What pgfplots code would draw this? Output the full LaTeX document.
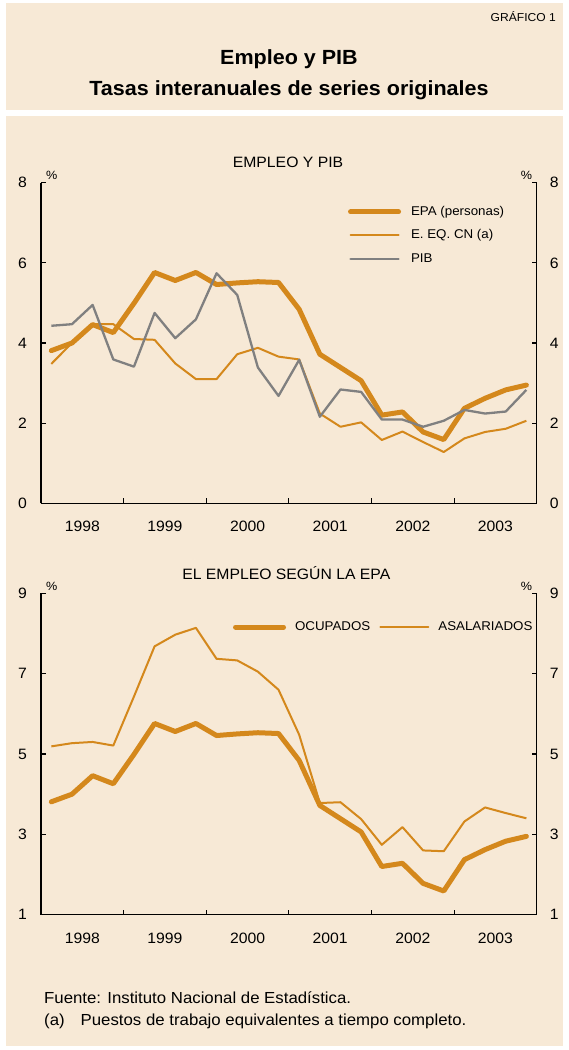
\documentclass[border=0pt]{standalone}
\usepackage{pgfplots}
\usepackage{pgfplotstable}
\pgfplotsset{compat=1.18}
\usepackage{fontspec}
\setmainfont{Liberation Sans}[FakeStretch=1.05]
\definecolor{bg}{RGB}{247,233,214}
\definecolor{ora}{RGB}{212,136,28}
\definecolor{gry}{RGB}{128,128,128}

\pgfplotstableread{
i  epa   eeq   pib   asal
0  3.81  3.48  4.43  5.19
1  4.00  4.00  4.47  5.27
2  4.46  4.47  4.95  5.30
3  4.26  4.47  3.59  5.21
4  4.99  4.10  3.41  6.43
5  5.76  4.08  4.75  7.68
6  5.56  3.49  4.12  7.97
7  5.76  3.10  4.59  8.14
8  5.46  3.10  5.74  7.37
9  5.50  3.72  5.20  7.33
10 5.53  3.88  3.39  7.05
11 5.51  3.66  2.68  6.60
12 4.84  3.59  3.58  5.48
13 3.72  2.24  2.16  3.78
14 3.39  1.91  2.84  3.80
15 3.06  2.02  2.78  3.38
16 2.20  1.58  2.09  2.74
17 2.28  1.79  2.09  3.18
18 1.78  1.53  1.91  2.60
19 1.59  1.28  2.06  2.58
20 2.37  1.62  2.33  3.32
21 2.62  1.78  2.24  3.67
22 2.83  1.86  2.29  3.53
23 2.95  2.06  2.83  3.40
}\datatab

\pgfplotsset{
  base/.style={
    scale only axis, width=495.7pt,
    xmin=-0.5, xmax=23.5, clip=false,
    axis line style={line width=1.3pt, black},
    tick style={black, line width=1.1pt},
    tick align=inside, major tick length=5pt, minor tick length=5pt,
    tick label style={font=\fontsize{15}{15}\selectfont},
    /pgf/number format/assume math mode=true,
    legend image code/.code={\draw[##1, line cap=round] (0pt,0pt) -- (48pt,0pt);},
  },
  leftax/.style={
    base,
    axis x line*=bottom, axis y line*=left,
    xtick={1.5,5.5,9.5,13.5,17.5,21.5},
    xticklabels={1998,1999,2000,2001,2002,2003},
    major x tick style={draw=none},
    minor xtick={3.5,7.5,11.5,15.5,19.5},
    xticklabel style={anchor=north, inner sep=0pt, yshift=-18pt},
    yticklabel style={anchor=east, inner sep=0pt, xshift=-14pt},
  },
  rightax/.style={
    base,
    axis y line*=right, hide x axis,
    yticklabel style={anchor=west, inner sep=0pt, xshift=13pt},
  },
  thickl/.style={ora, line width=5pt, line join=round, line cap=round},
  thinl/.style={ora, line width=2pt, line join=round},
  grayl/.style={gry, line width=2.3pt, line join=round},
}

\begin{document}
\begin{tikzpicture}[x=1pt,y=1pt]
\fill[white] (0,0) rectangle (568,-1050);
\fill[bg] (6,-3) rectangle (563,-110);
\fill[bg] (6,-116) rectangle (563,-1046);

\node[anchor=base east, inner sep=0pt, font=\fontsize{11.5}{13}\selectfont] at (556,-21.5) {GRÁFICO 1};
\node[anchor=base, inner sep=0pt, font=\fontsize{20.5}{24}\selectfont\bfseries] at (289,-64) {Empleo y PIB};
\node[anchor=base, inner sep=0pt, font=\fontsize{20.5}{24}\selectfont\bfseries] at (289,-95) {Tasas interanuales de series originales};

\node[anchor=base, inner sep=0pt, font=\fontsize{15}{18}\selectfont] at (288,-167.3) {EMPLEO Y PIB};
\node[anchor=base, inner sep=0pt, font=\fontsize{15}{18}\selectfont] at (286.3,-579) {EL EMPLEO SEGÚN LA EPA};

% ---------- top chart ----------
\begin{axis}[leftax, at={(41pt,-503.3pt)}, anchor=south west,
  height=320.6pt, ymin=0, ymax=8, ytick={0,2,4,6,8},
  legend style={at={(0.619,0.929)}, anchor=north west, draw=none, fill=none,
    inner sep=0pt, row sep=11pt, column sep=10pt,
    font=\fontsize{12.7}{14}\selectfont,
    nodes={inner sep=0pt, text height=9.5pt, text depth=3pt, anchor=west}},
  legend cell align=left]
\addplot[thickl] table[x=i, y=epa] {\datatab};
\addlegendentry{EPA (personas)}
\addplot[thinl] table[x=i, y=eeq] {\datatab};
\addlegendentry{E. EQ. CN (a)}
\addplot[grayl] table[x=i, y=pib] {\datatab};
\addlegendentry{PIB}
\node[anchor=south west, inner sep=0pt, font=\fontsize{12}{12}\selectfont] at (rel axis cs:0,1) [xshift=5pt, yshift=2.5pt] {\%};
\node[anchor=south east, inner sep=0pt, font=\fontsize{12}{12}\selectfont] at (rel axis cs:1,1) [xshift=-4.5pt, yshift=2.5pt] {\%};
\end{axis}
\begin{axis}[rightax, at={(41pt,-503.3pt)}, anchor=south west,
  height=320.6pt, ymin=0, ymax=8, ytick={0,2,4,6,8}]
\end{axis}

% ---------- bottom chart ----------
\begin{axis}[leftax, at={(41pt,-914.7pt)}, anchor=south west,
  height=321.4pt, ymin=1, ymax=9, ytick={1,3,5,7,9},
  legend columns=2,
  legend style={at={(0.387,0.915)}, anchor=north west, draw=none, fill=none,
    inner sep=0pt, column sep=9pt,
    font=\fontsize{12.7}{14}\selectfont,
    nodes={inner sep=0pt, text height=9.5pt, text depth=3pt, anchor=west}},
  legend cell align=left]
\addplot[thickl] table[x=i, y=epa] {\datatab};
\addlegendentry{OCUPADOS}
\addplot[thinl] table[x=i, y=asal] {\datatab};
\addlegendentry{ASALARIADOS}
\node[anchor=south west, inner sep=0pt, font=\fontsize{12}{12}\selectfont] at (rel axis cs:0,1) [xshift=5pt, yshift=2.5pt] {\%};
\node[anchor=south east, inner sep=0pt, font=\fontsize{12}{12}\selectfont] at (rel axis cs:1,1) [xshift=-4.5pt, yshift=2.5pt] {\%};
\end{axis}
\begin{axis}[rightax, at={(41pt,-914.7pt)}, anchor=south west,
  height=321.4pt, ymin=1, ymax=9, ytick={1,3,5,7,9}]
\end{axis}

% ---------- footnotes ----------
\node[anchor=base west, inner sep=0pt, font=\fontsize{16}{18}\selectfont] at (44,-1003) {Fuente: Instituto Nacional de Estadística.};
\node[anchor=base west, inner sep=0pt, font=\fontsize{16}{18}\selectfont] at (44,-1025) {(a)};
\node[anchor=base west, inner sep=0pt, font=\fontsize{16}{18}\selectfont] at (80.5,-1025) {Puestos de trabajo equivalentes a tiempo completo.};
\end{tikzpicture}
\end{document}
